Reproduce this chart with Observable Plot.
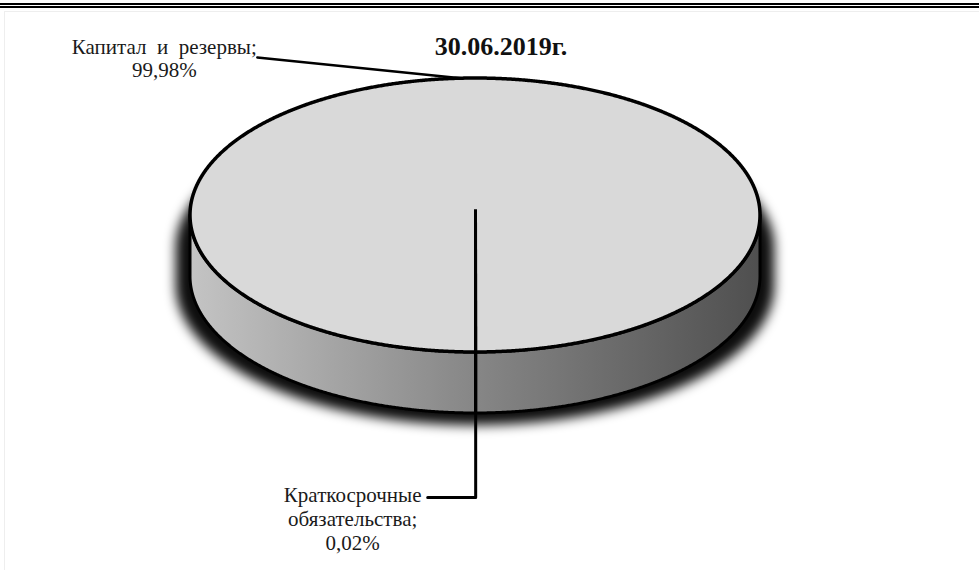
<!DOCTYPE html>
<html><head><meta charset="utf-8">
<script src="https://cdn.jsdelivr.net/npm/d3@7"></script>
<script src="https://cdn.jsdelivr.net/npm/@observablehq/plot@0.6"></script>
<style>
body{margin:0;background:#fff;}
#wrap{position:relative;width:979px;height:570px;overflow:hidden;background:#fff;}
#frame{position:absolute;left:4px;top:11px;width:980px;height:570px;border-left:1px solid #eeeeee;border-top:1px solid #eeeeee;}
#rule1{position:absolute;left:0;top:3px;width:979px;height:2px;background:#000;}
#rule2{position:absolute;left:0;top:6px;width:979px;height:1.5px;background:#000;}
#chart{position:absolute;left:0;top:0;}
</style></head><body>
<div id="wrap"><div id="frame"></div><div id="chart"></div><div id="rule1"></div><div id="rule2"></div></div>
<script>
// ---- data ----
const title = "30.06.2019г.";
const categories = ["Капитал и резервы", "Краткосрочные обязательства"];
const labelNames = ["Капитал  и  резервы;", "Краткосрочные\nобязательства;"];
const values = [99.98, 0.02];
const valueLabels = ["99,98%", "0,02%"];

// ---- layout (pixels) ----
const W = 979, H = 570;
const X0 = 475, RX = 285, Y0 = 215, RY = 137, DEPTH = 61;
const depth = DEPTH / RY;
const ux = d => d / RX, uy = d => d / RY;

// slices
const arcs = d3.pie().sort(null).startAngle(-Math.PI).endAngle(Math.PI)(values)
  .map((a, i) => ({...a, name: categories[i], mid: (a.startAngle + a.endAngle) / 2}));

// ellipse samples (front half by angle t in [0, PI])
const N = 720;
const half = d3.range(N + 1).map(k => {
  const t = Math.PI * k / N;
  return {u: -Math.cos(t), h: Math.sin(t)};
});
const topFace = half.map(p => ({x: p.u, y1: -p.h, y2: p.h}));
const side = half.map(p => ({x: p.u, y1: p.h, y2: p.h + depth}));
const sX = 1.05, sY = 1.02, sOff = uy(8);
const shadow = half.map(p => ({x: p.u * sX, y1: -p.h * sY + sOff + uy(25), y2: (p.h + depth) * sY + sOff}));

// slice borders
const borders = arcs.map(a => ({x: Math.sin(a.startAngle), y: -Math.cos(a.startAngle)}));
const sideBorders = borders.filter(b => b.y > 0);

// leaders & labels
const capital = arcs[0], small = arcs[1];
const capA = {x: Math.sin(capital.mid) + ux(-12), y: -Math.cos(capital.mid)};
const capLeader = [capA, {x: capA.x + ux(-206), y: capA.y + uy(-21)}];
const smA = {x: Math.sin(small.mid), y: -Math.cos(small.mid) + depth};
const smElbow = {x: smA.x, y: smA.y + uy(84)};
const smLeader = [smA, smElbow, {x: smElbow.x + ux(-48), y: smElbow.y}];
const labels = [
  {x: capLeader[1].x + ux(-93), y: capLeader[1].y + uy(-21), text: labelNames[0] + "\n" + valueLabels[0]},
  {x: smLeader[2].x + ux(-75), y: smLeader[2].y + uy(-12), text: labelNames[1] + "\n" + valueLabels[1]}
];

const font = "Liberation Serif";
const svg = Plot.plot({
  width: W, height: H, margin: 0,
  x: {domain: [-1, 1], range: [X0 - RX, X0 + RX], axis: null},
  y: {domain: [-1, 1], range: [Y0 - RY, Y0 + RY], axis: null},
  style: {background: "transparent", fontFamily: font},
  marks: [
    Plot.areaY(shadow, {x: "x", y1: "y1", y2: "y2", fill: "#000", fillOpacity: 0.95}),
    Plot.areaY(side, {x: "x", y1: "y1", y2: "y2", fill: "#888", stroke: "#000", strokeWidth: 3}),
    Plot.link(sideBorders, {x1: "x", y1: "y", x2: "x", y2: d => d.y + depth, stroke: "#000", strokeWidth: 3}),
    Plot.areaY(topFace, {x: "x", y1: "y1", y2: "y2", fill: "#d9d9d9", stroke: "#000", strokeWidth: 3.5}),
    Plot.link(borders, {x1: 0, y1: uy(-6), x2: "x", y2: "y", stroke: "#000", strokeWidth: 3}),
    Plot.line(capLeader, {x: "x", y: "y", stroke: "#000", strokeWidth: 2.5}),
    Plot.line(smLeader, {x: "x", y: "y", stroke: "#000", strokeWidth: 3}),
    Plot.text(labels, {x: "x", y: "y", text: "text", textAnchor: "middle", lineAnchor: "top",
      lineHeight: 1.14, fontSize: 21, fill: "#1a1a1a", fontFamily: font}),
    Plot.text([title], {frameAnchor: "top", dx: 11, dy: 36, text: d => d, fontSize: 26, fontWeight: "bold",
      lineAnchor: "top", fill: "#111", fontFamily: font})
  ]
});

const sel = d3.select(svg);
const defs = sel.insert("defs", ":first-child");
const f = defs.append("filter").attr("id", "shadowBlur")
  .attr("x", "-20%").attr("y", "-30%").attr("width", "140%").attr("height", "160%");
f.append("feGaussianBlur").attr("stdDeviation", 6);
const g = defs.append("linearGradient").attr("id", "sideGrad")
  .attr("x1", 0).attr("x2", 1).attr("y1", 0).attr("y2", 0);
[[0, "#c4c4c4"], [0.45, "#8c8c8c"], [1, "#4f4f4f"]].forEach(([o, c]) =>
  g.append("stop").attr("offset", o).attr("stop-color", c));
const areas = sel.selectAll('g[aria-label="area"]').nodes();
d3.select(areas[0]).attr("filter", "url(#shadowBlur)");
d3.select(areas[1]).attr("fill", "url(#sideGrad)").selectAll("path").attr("fill", "url(#sideGrad)");
document.getElementById("chart").appendChild(svg);
</script>
</body></html>
